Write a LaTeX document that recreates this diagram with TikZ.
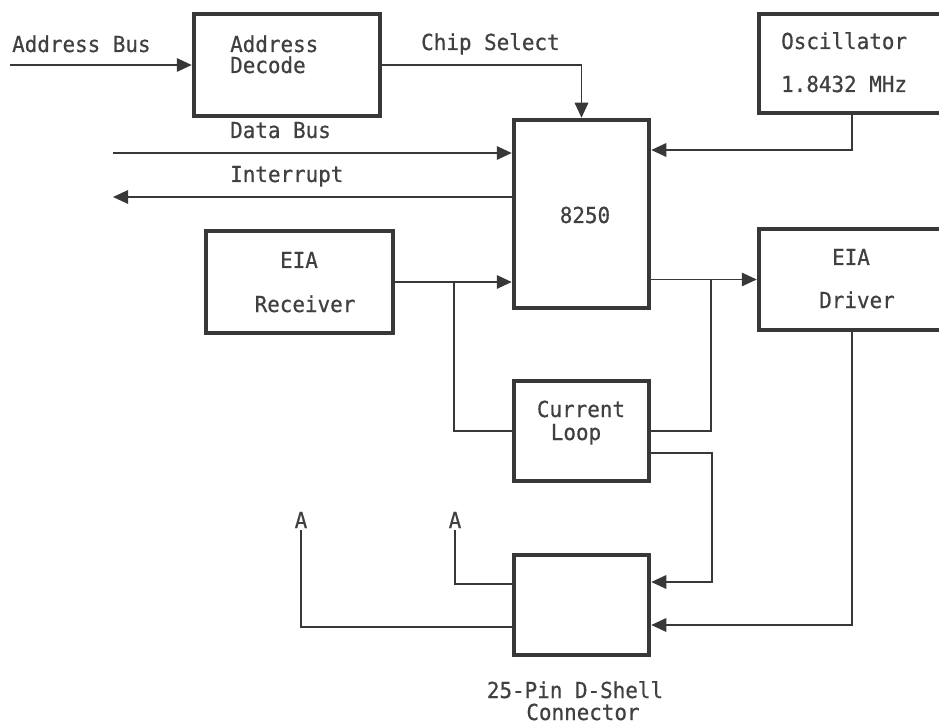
\documentclass[tikz,border=0pt]{standalone}
\usepackage{fontspec}
\setmonofont[FakeStretch=0.95,FakeBold=0.6]{DejaVu Sans Mono}
\usetikzlibrary{arrows.meta}
\definecolor{ink}{HTML}{383838}
\definecolor{txt}{HTML}{404040}
\begin{document}
\begin{tikzpicture}[x=1pt,y=-1pt,
  box/.style={draw=ink,line width=4.5pt,minimum width=#1,inner sep=0pt},
  lbl/.style={text=txt,inner sep=0pt,font=\ttfamily\fontsize{22}{26}\selectfont},
  wire/.style={draw=ink,line width=1.6pt},
  arr/.style={wire,-{Triangle[length=15pt,width=13.5pt]}}]
\useasboundingbox (0,0) rectangle (939,727);
\clip (0,0) rectangle (939,727);
% boxes
\node[box=186pt,minimum height=102pt] (ad) at (287,65) {};
\node[box=135pt,minimum height=188pt] (u8250) at (581.5,214) {};
\node[box=186pt,minimum height=99pt] (osc) at (852,63.5) {};
\node[box=187pt,minimum height=102pt] (rcv) at (299.5,282) {};
\node[box=186pt,minimum height=101pt] (drv) at (852,279.5) {};
\node[box=135pt,minimum height=100pt] (cl) at (581.5,431) {};
\node[box=135pt,minimum height=100pt] (conn) at (581.5,605) {};
% texts
\node[lbl,anchor=base west] (tab) at (12,52) {Address Bus};
\node[lbl,anchor=base west] (tad1) at (230,52) {Address};
\node[lbl,anchor=base west] (tad2) at (230,73) {Decode};
\node[lbl,anchor=base west] (tcs) at (421,50) {Chip Select};
\node[lbl,anchor=base west] (tosc1) at (781,49) {Oscillator};
\node[lbl,anchor=base west] (tosc2) at (781,92) {1.8432 MHz};
\node[lbl,anchor=base west] (tdb) at (230,138) {Data Bus};
\node[lbl,anchor=base west] (tint) at (230,182) {Interrupt};
\node[lbl,anchor=base] (t8250) at (585,223) {8250};
\node[lbl,anchor=base] (trc1) at (299,268) {EIA};
\node[lbl,anchor=base] (trc2) at (305,312) {Receiver};
\node[lbl,anchor=base] (tdr1) at (851,265) {EIA};
\node[lbl,anchor=base] (tdr2) at (857,308) {Driver};
\node[lbl,anchor=base] (tcl1) at (581,417) {Current};
\node[lbl,anchor=base] (tcl2) at (576,440) {Loop};
\node[lbl,anchor=base,inner sep=2pt] (aL) at (301,528) {A};
\node[lbl,anchor=base,inner sep=2pt] (aR) at (455,528) {A};
\node[lbl,anchor=base] (tcn1) at (575,698) {25-Pin D-Shell};
\node[lbl,anchor=base] (tcn2) at (583,720) {Connector};
% coordinates
\coordinate (abin) at (10,65);
\coordinate (dbin) at (113,153);
\coordinate (intout) at (113,197);
\coordinate (yosc) at (0,150);
\coordinate (j1) at (454,282);
\coordinate (j2) at (711,279.5);
\coordinate (ycl2) at (0,453);
\coordinate (xcl2) at (712,0);
\coordinate (yc1) at (0,582);
\coordinate (yc2) at (0,625);
\coordinate (yc3) at (0,584);
\coordinate (yc4) at (0,627);
% connectors
\draw[arr] (abin) -- (ad.west);
\draw[arr] (ad.east) -| (u8250.north);
\draw[arr] (dbin) -- (dbin -| u8250.west);
\draw[arr] (intout -| u8250.west) -- (intout);
\draw[arr] (osc.south) |- (yosc -| u8250.east);
\draw[arr] (rcv.east) -- (rcv.east -| u8250.west);
\draw[wire] (j1) |- (cl.west);
\draw[arr] (drv.west -| u8250.east) -- (drv.west);
\draw[wire] (j2) |- (cl.east);
\draw[arr] (ycl2 -| cl.east) -- (ycl2 -| xcl2) |- (yc1 -| conn.east);
\draw[arr] (drv.south) |- (yc2 -| conn.east);
\draw[wire] (yc3 -| conn.west) -| (aR.south);
\draw[wire] (yc4 -| conn.west) -| (aL.south);
\end{tikzpicture}
\end{document}
